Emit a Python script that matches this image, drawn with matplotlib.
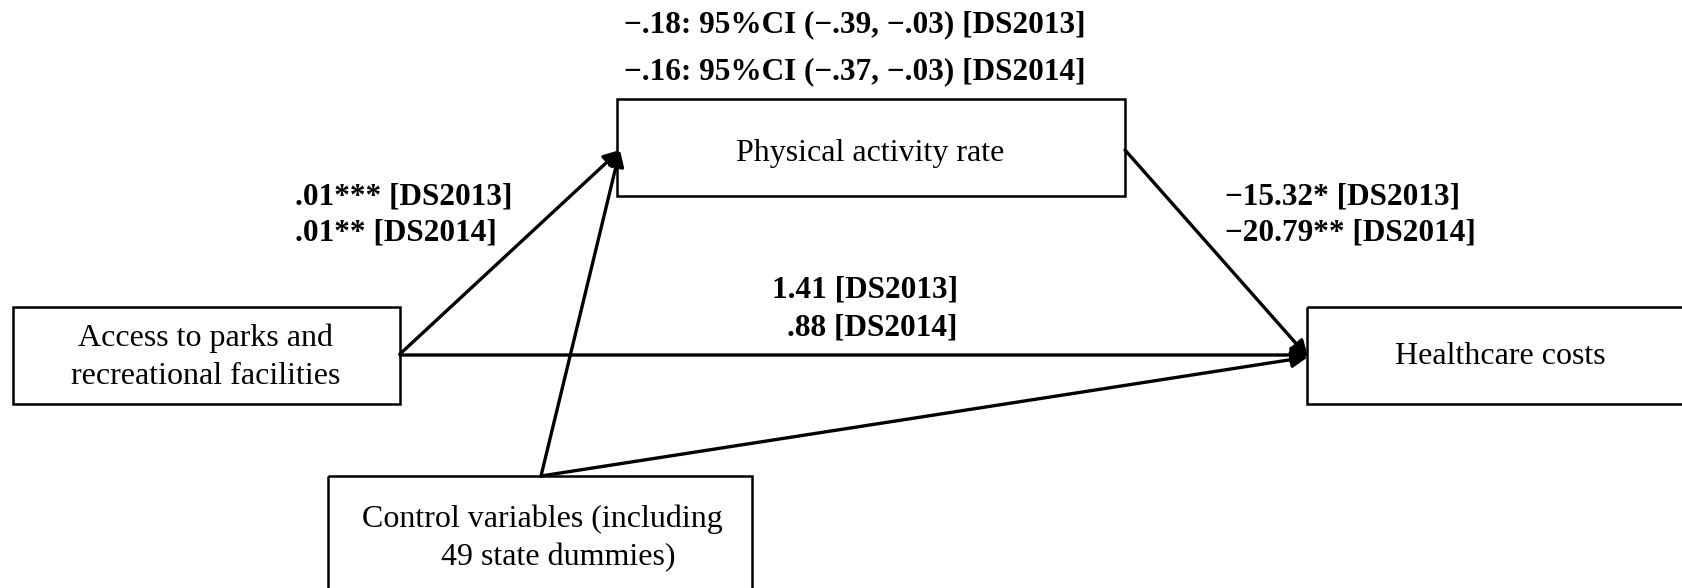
import matplotlib.pyplot as plt
from matplotlib.patches import Rectangle

plt.rcParams['font.family'] = ['Liberation Serif', 'DejaVu Serif']

# nodes of the path diagram
nodes = ["Physical activity rate",
         "Access to parks and\nrecreational facilities",
         "Healthcare costs",
         "Control variables (including\n    49 state dummies)"]

# path coefficients
indirect = ["\u2212.18: 95%CI (\u2212.39, \u2212.03) [DS2013]",
            "\u2212.16: 95%CI (\u2212.37, \u2212.03) [DS2014]"]
path_a = [".01*** [DS2013]", ".01** [DS2014]"]
path_b = ["\u221215.32* [DS2013]", "\u221220.79** [DS2014]"]
path_c = ["1.41 [DS2013]", ".88 [DS2014]"]

fig = plt.figure(figsize=(16.82, 5.88), dpi=100)
ax = fig.add_axes([0, 0, 1, 1])
ax.set_xlim(0, 1682)
ax.set_ylim(588, 0)
ax.axis('off')

# boxes: x0, y0, w, h, and where the label sits
boxes = [(617, 99, 508, 97), (13, 307, 387, 97), (1307, 307, 400, 97), (328, 476, 424, 130)]
label_pos = [(870, 153), (206, 357), (1500, 357), (542, 538)]
for (x0, y0, w, h), (lx, ly), lab in zip(boxes, label_pos, nodes):
    ax.add_patch(Rectangle((x0, y0), w, h, fill=False, lw=1.8, ec='black'))
    ax.text(lx, ly, lab, ha='center', va='center', fontsize=23, linespacing=1.4)

def arrow(p0, p1):
    ax.annotate("", xy=p1, xytext=p0,
                arrowprops=dict(arrowstyle="-|>", lw=2.4, color='black',
                                mutation_scale=24, shrinkA=0, shrinkB=0))

arrow((400, 354), (620, 150))
arrow((400, 355), (1308, 355))
arrow((1125, 150), (1308, 357))
arrow((541, 476), (620, 150))
arrow((541, 476), (1308, 357))

bold = dict(fontsize=22.5, fontweight='bold', va='center')
ax.text(855, 25, indirect[0], ha='center', **bold)
ax.text(855, 72, indirect[1], ha='center', **bold)
ax.text(295, 197, path_a[0], ha='left', **bold)
ax.text(295, 233, path_a[1], ha='left', **bold)
ax.text(1225, 197, path_b[0], ha='left', **bold)
ax.text(1225, 233, path_b[1], ha='left', **bold)
ax.text(958, 290, path_c[0], ha='right', **bold)
ax.text(958, 328, path_c[1], ha='right', **bold)

fig.savefig("out.png", dpi=100)
